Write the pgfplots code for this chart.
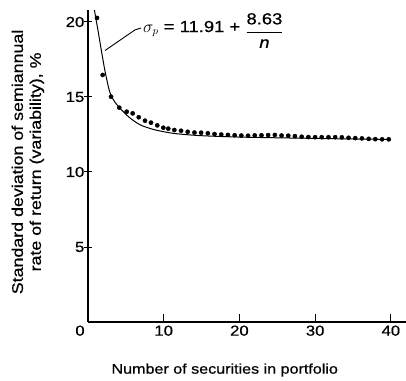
\documentclass[border=0pt]{standalone}
\usepackage{fontspec}
\setmainfont{Liberation Sans}[FakeStretch=1.15,FakeBold=0.6]
\usepackage{pgfplots}
\pgfplotsset{compat=1.18}
\begin{document}
\begin{tikzpicture}[x=1pt,y=1pt]
\useasboundingbox (-88,-58) rectangle (318,322);
\begin{axis}[
 at={(0,0)}, anchor=south west,
 scale only axis, width=318pt, height=312pt,
 xmin=0, xmax=42, ymin=0, ymax=20.8,
 axis lines=left, axis line style={line width=1.1pt, -},
 xtick={10,20,30,40}, ytick={5,10,15,20},
 extra x ticks={0},
 extra x tick style={major tick length=0pt, xticklabel style={xshift=-8pt}},
 xtick align=inside, ytick align=center,
 major tick length=8pt,
 tick style={line width=1pt, black},
 ticklabel style={font=\fontsize{14.5}{16}\selectfont},
 yticklabel style={inner sep=1pt, xshift=1.5pt},
 /pgf/number format/assume math mode=true,
 xlabel={Number of securities in portfolio},
 xlabel style={at={(axis description cs:0.43,-0.154)}, anchor=center, font=\fontsize{14}{16}\selectfont},
 ylabel={Standard deviation of semiannual\\rate of return (variability), \%},
 ylabel style={at={(axis description cs:-0.189,0.513)}, anchor=center, align=center, font=\fontsize{15.5}{18}\selectfont},
 clip=false,
]
\addplot[smooth, line width=1pt, black, mark=none] coordinates {
(0.85,20.8)(1.0,20.35)(1.3,19.5)(1.6,18.6)(1.9,17.7)(2.2,16.85)(2.55,16.0)(2.9,15.3)(3.5,14.7)(4.45,14.13)(5.55,13.6)(6.87,13.15)(8.41,12.87)(9.95,12.69)(11.72,12.55)(15,12.42)(20,12.33)(25,12.28)(30,12.24)(35,12.2)(40,12.17)
};
\addplot[only marks, mark=*, mark size=2.1pt, black] coordinates {
(1.19,20.27)(1.94,16.47)(3.04,15.02)(4.13,14.29)(5.11,14.02)(5.90,13.91)(6.70,13.65)(7.53,13.42)(8.32,13.29)(9.15,13.11)(9.95,12.95)(10.60,12.89)(11.40,12.80)(12.29,12.75)(13.17,12.68)(14.06,12.63)(14.94,12.62)(15.83,12.58)(16.71,12.53)(17.60,12.50)(18.48,12.47)(19.37,12.45)(20.25,12.43)(21.14,12.42)(22.02,12.44)(22.91,12.45)(23.79,12.46)(24.68,12.47)(25.56,12.43)(26.45,12.42)(27.33,12.39)(28.22,12.35)(29.10,12.33)(29.99,12.32)(30.87,12.32)(31.76,12.32)(32.64,12.32)(33.53,12.31)(34.41,12.28)(35.30,12.26)(36.18,12.24)(37.07,12.21)(37.95,12.19)(38.84,12.18)(39.72,12.18)
};
\draw[line width=0.9pt] (axis cs:2.25,18.1) -- (axis cs:6.2,19.47) -- (axis cs:7.0,19.6);
\node[anchor=base west, inner sep=0pt, font=\fontsize{16}{18}\selectfont] at (axis cs:7.25,19.33)
 {$\sigma_p$ = 11.91 + \raisebox{-4pt}{$\displaystyle\frac{\mbox{8.63}}{\mbox{\itshape n}}$}};
\end{axis}
\end{tikzpicture}
\end{document}
